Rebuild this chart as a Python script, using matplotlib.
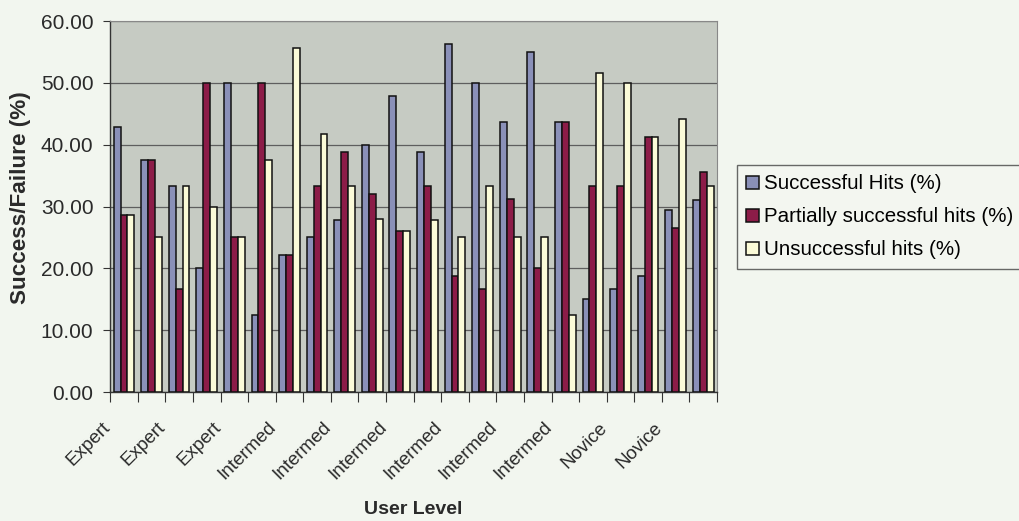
import matplotlib
matplotlib.use("Agg")
import matplotlib.pyplot as plt
from matplotlib import font_manager
from matplotlib.transforms import ScaledTranslation
import numpy as np

# User level of each test session
levels = ["Expert"] * 6 + ["Intermed"] * 12 + ["Novice"] * 4

successful = [42.86, 37.5, 33.33, 20.0, 50.0, 12.5, 22.22, 25.0, 27.78, 40.0, 47.83,
              38.89, 56.25, 50.0, 43.75, 55.0, 43.75, 15.0, 16.67, 18.75, 29.41, 31.11]
partial = [28.57, 37.5, 16.67, 50.0, 25.0, 50.0, 22.22, 33.33, 38.89, 32.0, 26.09,
           33.33, 18.75, 16.67, 31.25, 20.0, 43.75, 33.33, 33.33, 41.3, 26.47, 35.56]
unsuccessful = [28.57, 25.0, 33.33, 30.0, 25.0, 37.5, 55.56, 41.67, 33.33, 28.0, 26.09,
                27.78, 25.0, 33.33, 25.0, 25.0, 12.5, 51.67, 50.0, 41.3, 44.12, 33.33]

series_names = ["Successful Hits (%)", "Partially successful hits (%)", "Unsuccessful hits (%)"]
colors = ["#8a90b8", "#8c1c48", "#fbfbd8"]

available = {f.name for f in font_manager.fontManager.ttflist}
narrow = "Liberation Sans Narrow" if "Liberation Sans Narrow" in available else "Liberation Sans"
xlabel_size = 16.5 if narrow == "Liberation Sans Narrow" else 14

fig = plt.figure(figsize=(10.2, 5.21), dpi=100, facecolor="#f2f6ef")
ax = fig.add_axes([0.108, 0.2476, 0.595, 0.712])
ax.set_facecolor("#c6cbc3")

x = np.arange(len(levels))
w = 0.25
for i, (vals, name, col) in enumerate(zip([successful, partial, unsuccessful], series_names, colors)):
    ax.bar(x + (i - 1) * w, vals, width=w, color=col, edgecolor="#111111",
           linewidth=1.1, label=name, zorder=3)

ax.set_xlim(-0.5, len(levels) - 0.5)
ax.set_ylim(0, 60)
ax.set_yticks(np.arange(0, 61, 10))
ax.set_yticklabels([f"{v:.2f}" for v in np.arange(0, 61, 10)],
                   fontsize=15, family="Liberation Sans", color="#2a2a2a")
ax.yaxis.grid(True, color="#5e5e5e", linewidth=0.9, zorder=0)

# Tick marks between categories; category names on every other category
ax.set_xticks(np.arange(-0.5, len(levels), 1.0))
ax.set_xticklabels([])
ax.tick_params(axis="x", which="major", length=7, direction="out", color="#333333")
ax.tick_params(axis="y", length=5, direction="out", color="#333333", pad=7)

label_offset = ScaledTranslation(-0.16, -0.33, fig.dpi_scale_trans)
for xi in x[::2]:
    ax.text(xi, 0, levels[xi], transform=ax.get_xaxis_transform() + label_offset,
            rotation=45, ha="right", va="center", rotation_mode="anchor",
            fontsize=13.5, family="Liberation Sans", color="#2a2a2a", clip_on=False)

for side in ["top", "right"]:
    ax.spines[side].set_color("#888888")
for side in ["left", "bottom"]:
    ax.spines[side].set_color("#333333")
    ax.spines[side].set_linewidth(1.0)

ax.set_ylabel("Success/Failure (%)", fontsize=16.2, fontweight="bold",
              family="Liberation Sans", color="#2a2a2a", va="center")
ax.yaxis.set_label_coords(-0.147, 0.523)
ax.set_xlabel("User Level", fontsize=xlabel_size, fontweight="bold",
              family=narrow, color="#2a2a2a", va="center")
ax.xaxis.set_label_coords(0.5, -0.318)

leg = fig.legend(loc="upper left", bbox_to_anchor=(0.7225, 0.683), frameon=True,
                 fancybox=False, edgecolor="#444444", facecolor="#f4f7f1",
                 prop={"family": "Liberation Sans", "size": 14.8},
                 handlelength=0.6, handleheight=0.6, handletextpad=0.25,
                 labelspacing=0.68, borderpad=0.45, borderaxespad=0)
leg.get_frame().set_linewidth(1.0)

fig.savefig("out.png", dpi=100, facecolor=fig.get_facecolor())
